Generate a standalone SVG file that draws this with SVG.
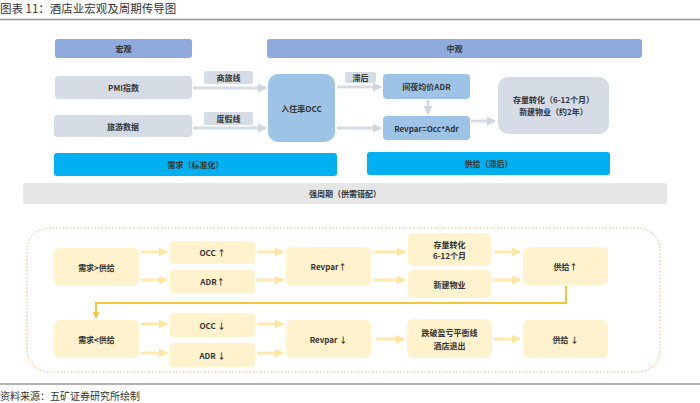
<svg xmlns="http://www.w3.org/2000/svg" width="700" height="403" viewBox="0 0 700 403">
<defs>
<style>
text{font-family:"Noto Sans CJK SC","Liberation Sans",sans-serif;fill:#333;}
.t{font-size:8px;font-weight:bold;text-anchor:middle;dominant-baseline:central;}
.hdr{fill:#8faadc;}
.gray{fill:#d6dce5;}
.blue{fill:#9dc3e6;}
.cyan{fill:#00b0f0;}
.y{fill:#fff2cc;}
.ga{stroke:#d6dce5;stroke-width:3;fill:none;}
.ya{stroke:#ffe9ad;stroke-width:3;fill:none;}
</style>
<marker id="mg" viewBox="0 0 10 10" refX="9" refY="5" markerWidth="3" markerHeight="3" orient="auto" markerUnits="strokeWidth"><path d="M0,0 L10,5 L0,10 z" fill="#d0d6e0"/></marker>
<marker id="my" viewBox="0 0 10 10" refX="9" refY="5" markerWidth="3" markerHeight="3" orient="auto" markerUnits="strokeWidth"><path d="M0,0 L10,5 L0,10 z" fill="#ffe6a0"/></marker>
<marker id="mo" viewBox="0 0 10 10" refX="9" refY="5" markerWidth="3.5" markerHeight="3.5" orient="auto" markerUnits="strokeWidth"><path d="M0,0 L10,5 L0,10 z" fill="#f8c53a"/></marker>
</defs>
<rect width="700" height="403" fill="#fff"/>
<text x="0" y="10" style="font-size:11.5px;" dominant-baseline="middle">图表 11：酒店业宏观及周期传导图</text>
<line x1="0" y1="19.5" x2="700" y2="19.5" stroke="#999" stroke-width="1.5"/>

<g id="connectors">
<line class="ga" x1="193" y1="88" x2="266" y2="88" marker-end="url(#mg)"/>
<line class="ga" x1="193" y1="128" x2="266" y2="128" marker-end="url(#mg)"/>
<line class="ga" x1="337" y1="87" x2="381" y2="87" marker-end="url(#mg)"/>
<line class="ga" x1="337" y1="128" x2="381" y2="128" marker-end="url(#mg)"/>
<line class="ga" x1="428" y1="100" x2="428" y2="114" marker-end="url(#mg)"/>
<line class="ga" x1="471" y1="121" x2="495" y2="121" marker-end="url(#mg)"/>

<line class="ya" x1="141" y1="252" x2="167" y2="252" marker-end="url(#my)"/>
<line class="ya" x1="141" y1="280" x2="167" y2="280" marker-end="url(#my)"/>
<line class="ya" x1="257" y1="252" x2="283" y2="252" marker-end="url(#my)"/>
<line class="ya" x1="257" y1="280" x2="283" y2="280" marker-end="url(#my)"/>
<line class="ya" x1="374" y1="252" x2="405" y2="252" marker-end="url(#my)"/>
<line class="ya" x1="374" y1="280" x2="405" y2="280" marker-end="url(#my)"/>
<line class="ya" x1="494" y1="252" x2="520" y2="252" marker-end="url(#my)"/>
<line class="ya" x1="494" y1="280" x2="520" y2="280" marker-end="url(#my)"/>
<line class="ya" x1="141" y1="324" x2="167" y2="324" marker-end="url(#my)"/>
<line class="ya" x1="141" y1="353" x2="167" y2="353" marker-end="url(#my)"/>
<line class="ya" x1="257" y1="324" x2="283" y2="324" marker-end="url(#my)"/>
<line class="ya" x1="257" y1="353" x2="283" y2="353" marker-end="url(#my)"/>
<line class="ya" x1="376" y1="339" x2="404" y2="339" marker-end="url(#my)"/>
<line class="ya" x1="494" y1="339" x2="520" y2="339" marker-end="url(#my)"/>

<polyline points="566,286 566,303 96,303 96,318" fill="none" stroke="#f8c53a" stroke-width="2" marker-end="url(#mo)"/>
</g>

<g id="macro"><rect class="hdr" x="55" y="39" width="137" height="19" rx="3"/><text class="t" x="123.5" y="48.5">宏观</text></g>
<g id="meso"><rect class="hdr" x="267" y="39" width="375" height="19" rx="3"/><text class="t" x="454.5" y="48.5">中观</text></g>
<g id="pmi"><rect class="gray" x="55" y="76" width="137" height="23" rx="4"/><text class="t" x="123.5" y="87.5">PMI指数</text></g>
<g id="travel"><rect class="gray" x="54" y="115" width="138" height="22" rx="4"/><text class="t" x="123" y="126">旅游数据</text></g>
<g id="lbl-business"><rect class="gray" x="204" y="71" width="49" height="13" rx="2"/><text class="t" x="228.5" y="77.5">商旅线</text></g>
<g id="lbl-leisure"><rect class="gray" x="204" y="112" width="49" height="13" rx="2"/><text class="t" x="228.5" y="118.5">度假线</text></g>
<g id="occ"><rect class="blue" x="268" y="74" width="67" height="68" rx="10"/><text class="t" x="301.5" y="108">入住率OCC</text></g>
<g id="lbl-lag"><rect class="gray" x="345" y="72" width="31" height="11" rx="2"/><text class="t" x="360.5" y="77.5">滞后</text></g>
<g id="adr"><rect class="blue" x="383" y="74" width="87" height="25" rx="4"/><text class="t" x="426.5" y="86.5">间夜均价ADR</text></g>
<g id="revpar"><rect class="blue" x="383" y="116" width="87" height="24" rx="4"/><text class="t" x="426.5" y="128">Revpar=Occ*Adr</text></g>
<g id="stock"><rect class="gray" x="498" y="77" width="111" height="57" rx="10"/><text class="t" x="553.5" y="99.5">存量转化（6-12个月）</text><text class="t" x="553.5" y="111.5">新建物业（约2年）</text></g>
<g id="demand"><rect class="cyan" x="54" y="153" width="283" height="23" rx="3"/><text class="t" x="195.5" y="164.5">需求（标准化）</text></g>
<g id="supply"><rect class="cyan" x="367" y="152" width="243" height="23" rx="3"/><text class="t" x="488.5" y="163.5">供给（滞后）</text></g>
<g id="cycle"><rect x="23" y="183" width="644" height="21" rx="3" fill="#e7e6e6"/><text class="t" x="345" y="193.5">强周期（供需错配）</text></g>

<rect x="27" y="228" width="633" height="144" rx="22" fill="none" stroke="#f4b183" stroke-width="1" stroke-dasharray="1.5,2"/>

<g id="b-dgs"><rect class="y" x="54" y="248" width="85" height="38" rx="6"/><text class="t" x="96.5" y="267">需求&gt;供给</text></g>
<g id="b-occu"><rect class="y" x="170" y="241" width="85" height="23" rx="4"/><text class="t" x="212.5" y="252.5">OCC ↑</text></g>
<g id="b-adru"><rect class="y" x="170" y="270" width="85" height="23" rx="4"/><text class="t" x="212.5" y="281.5">ADR↑</text></g>
<g id="b-revu"><rect class="y" x="286" y="247" width="85" height="39" rx="6"/><text class="t" x="328.5" y="266.5">Revpar↑</text></g>
<g id="b-stock"><rect class="y" x="408" y="233" width="83" height="33" rx="5"/><text class="t" x="449.5" y="244">存量转化</text><text class="t" x="449.5" y="255.5">6-12个月</text></g>
<g id="b-new"><rect class="y" x="408" y="270" width="83" height="28" rx="5"/><text class="t" x="449.5" y="284">新建物业</text></g>
<g id="b-supu"><rect class="y" x="523" y="247" width="85" height="38" rx="6"/><text class="t" x="565.5" y="266">供给↑</text></g>
<g id="b-dls"><rect class="y" x="54" y="320" width="85" height="38" rx="6"/><text class="t" x="96.5" y="339">需求&lt;供给</text></g>
<g id="b-occd"><rect class="y" x="170" y="313" width="85" height="24" rx="4"/><text class="t" x="212.5" y="325">OCC ↓</text></g>
<g id="b-adrd"><rect class="y" x="170" y="343" width="85" height="24" rx="4"/><text class="t" x="212.5" y="355">ADR ↓</text></g>
<g id="b-revd"><rect class="y" x="286" y="320" width="85" height="38" rx="6"/><text class="t" x="328.5" y="339">Revpar ↓</text></g>
<g id="b-exit"><rect class="y" x="407" y="319" width="85" height="39" rx="6"/><text class="t" x="449.5" y="332.5">跌破盈亏平衡线</text><text class="t" x="449.5" y="345">酒店退出</text></g>
<g id="b-supd"><rect class="y" x="523" y="320" width="85" height="38" rx="6"/><text class="t" x="565.5" y="339">供给 ↓</text></g>

<line x1="0" y1="384" x2="700" y2="384" stroke="#999" stroke-width="1.5"/>
<text x="0" y="397" style="font-size:10px;" dominant-baseline="middle">资料来源：五矿证券研究所绘制</text>
</svg>
